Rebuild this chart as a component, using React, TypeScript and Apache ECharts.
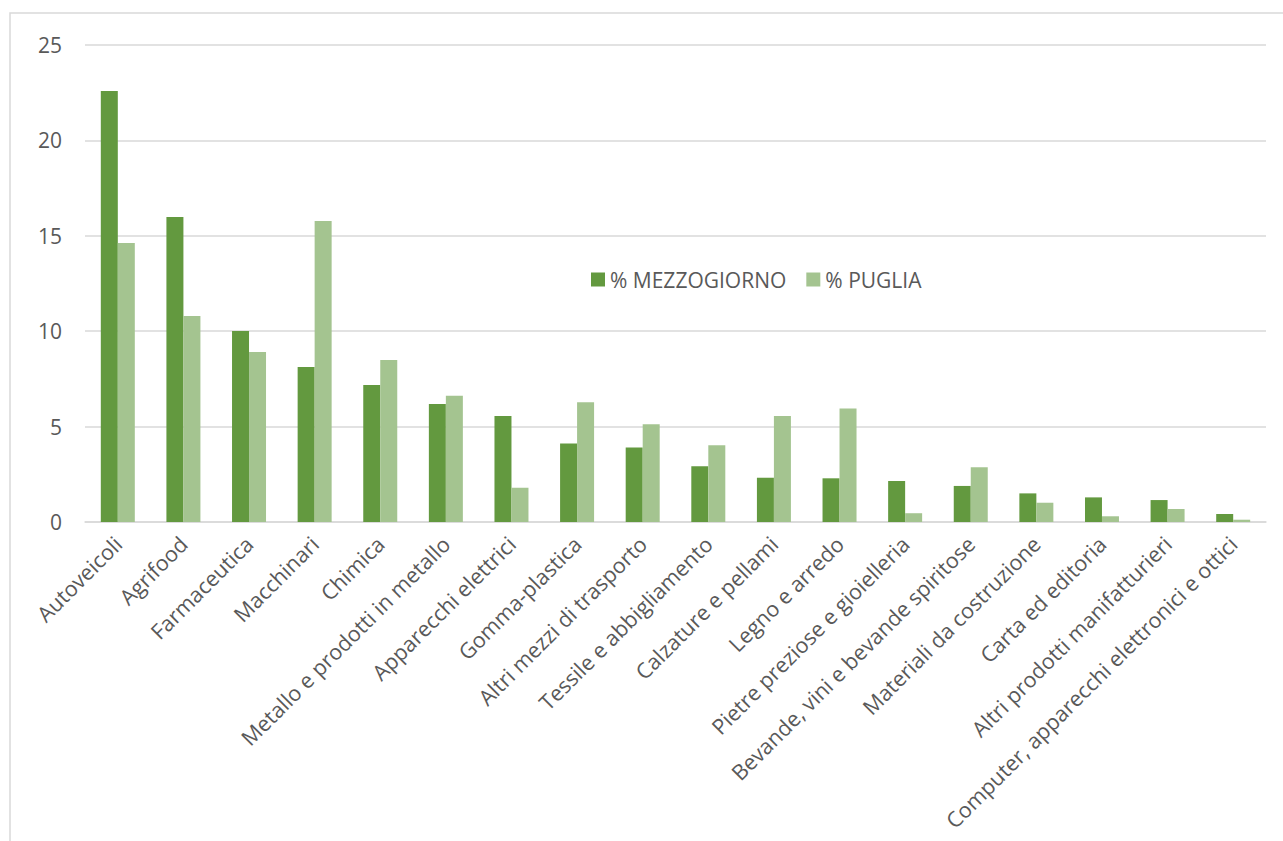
import React, { useEffect, useRef } from "react";
import * as echarts from "echarts";

const categories = [
  "Autoveicoli",
  "Agrifood",
  "Farmaceutica",
  "Macchinari",
  "Chimica",
  "Metallo e prodotti in metallo",
  "Apparecchi elettrici",
  "Gomma-plastica",
  "Altri mezzi di trasporto",
  "Tessile e abbigliamento",
  "Calzature e pellami",
  "Legno e arredo",
  "Pietre preziose e gioielleria",
  "Bevande, vini e bevande spiritose",
  "Materiali da costruzione",
  "Carta ed editoria",
  "Altri prodotti manifatturieri",
  "Computer, apparecchi elettronici e ottici",
];

const mezzogiorno = [22.59, 15.98, 10.01, 8.12, 7.18, 6.19, 5.56, 4.12, 3.91, 2.92, 2.32, 2.29, 2.15, 1.89, 1.5, 1.29, 1.15, 0.42];
const puglia = [14.62, 10.8, 8.91, 15.78, 8.49, 6.62, 1.8, 6.27, 5.12, 4.02, 5.56, 5.95, 0.46, 2.87, 1.01, 0.3, 0.68, 0.12];

const seriesNames = ["% MEZZOGIORNO", "% PUGLIA"];
const yTicks = { min: 0, max: 25, interval: 5 };

const FONT = "'Open Sans', 'Noto Sans', sans-serif";
const TEXT = "#595959";

export default function App() {
  const ref = useRef<HTMLDivElement>(null);
  useEffect(() => {
    if (!ref.current) return;
    const chart = echarts.init(ref.current, null, { renderer: "svg" });
    chart.setOption({
      animation: false,
      backgroundColor: "#ffffff",
      textStyle: { fontFamily: FONT },
      graphic: [
        {
          type: "rect",
          shape: { x: 10, y: 13, width: 1400, height: 1000 },
          style: { fill: "none", stroke: "#d9d9d9", lineWidth: 1.5 },
          silent: true,
        },
      ],
      legend: {
        left: 586,
        top: 264,
        itemWidth: 14,
        itemHeight: 14,
        itemGap: 20,
        icon: "rect",
        textStyle: { color: TEXT, fontSize: 21, fontFamily: FONT },
        data: seriesNames,
      },
      grid: { left: 85, right: 17, top: 45, bottom: 319, containLabel: false },
      xAxis: {
        type: "category",
        data: categories,
        axisLine: { show: true, lineStyle: { color: "#d9d9d9", width: 1.5 } },
        axisTick: { show: false },
        axisLabel: {
          interval: 0,
          rotate: 45,
          margin: 18,
          color: TEXT,
          fontSize: 21.5,
          fontFamily: FONT,
        },
      },
      yAxis: {
        type: "value",
        min: yTicks.min,
        max: yTicks.max,
        interval: yTicks.interval,
        axisLine: { show: false },
        axisTick: { show: false },
        splitLine: { lineStyle: { color: "#d9d9d9", width: 1.5 } },
        axisLabel: { color: TEXT, fontSize: 21, margin: 23, fontFamily: FONT },
      },
      series: [
        {
          name: seriesNames[0],
          type: "bar",
          data: mezzogiorno,
          barWidth: 17,
          barGap: "0%",
          itemStyle: { color: "#63993f" },
        },
        {
          name: seriesNames[1],
          type: "bar",
          data: puglia,
          barWidth: 17,
          barGap: "0%",
          itemStyle: { color: "#a4c490" },
        },
      ],
    });
    return () => chart.dispose();
  }, []);
  return (
    <div
      ref={ref}
      style={{ position: "fixed", left: 0, top: 0, width: 1283, height: 841 }}
    />
  );
}
